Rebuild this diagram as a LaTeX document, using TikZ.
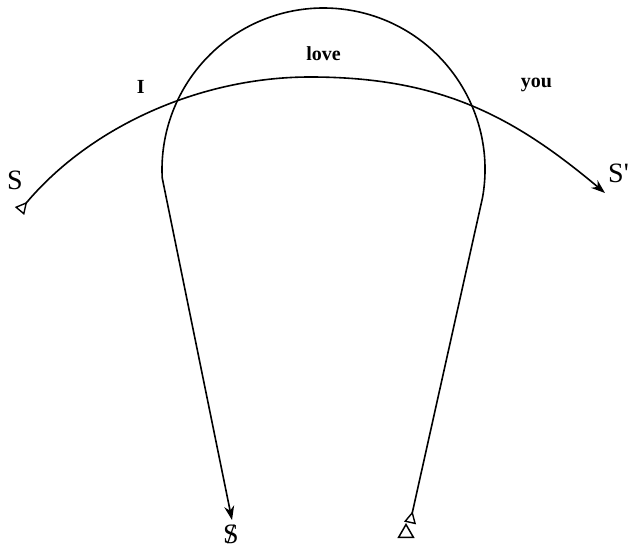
\documentclass[tikz,border=0pt]{standalone}
\usepackage{fontspec}
\setmainfont{Liberation Serif}
\usetikzlibrary{arrows.meta,shapes.geometric,calc}
\tikzset{
  otri/.tip={Triangle[open,reversed,length=12pt,width=12pt,line width=1.4pt]},
  farrow/.tip={Stealth[length=14pt,width=10pt]}
}
\begin{document}
\begin{tikzpicture}[x=1pt,y=1pt,
  line/.style={line width=1.6pt},
  lab/.style={font=\fontsize{20}{24}\selectfont\bfseries, anchor=base, inner sep=0pt},
  sym/.style={font=\fontsize{28}{32}\selectfont, anchor=base, inner sep=0pt}]
\useasboundingbox (0,0) rectangle (629,552);
\coordinate (C) at (323.5,382.5);
\coordinate (Sst) at (19.5,341);
\coordinate (top) at (310,475);
\coordinate (Send) at (605,359);
\coordinate (Rb) at (410,29);
\coordinate (Lb) at (232,32);
\coordinate (Ra) at ($(C)+(-10:161.5)$);
% long arc S -> S'
\draw[line, otri-farrow] (Sst) .. controls (90.2,425.3) and (200,475) .. (top)
      .. controls (440,475) and (513.1,436.1) .. (Send);
% loop
\draw[line, otri-farrow] (Rb) -- (Ra) arc[start angle=-10, end angle=183, radius=161.5] -- (Lb);
% labels
\node[lab] (I) at (140.7,458.7) {I};
\node[lab] (love) at (323.5,491.3) {love};
\node[lab] (you) at (536.5,464) {you};
\node[sym] (S) at (15,362) {S};
\node[sym, anchor=base west] (Sp) at (608,369) {S\textquotesingle};
\node[sym] (bS) at (231,9) {\ooalign{S\cr\hidewidth/\hidewidth\cr}};
\node[draw, regular polygon, regular polygon sides=3, minimum size=17pt, inner sep=0pt, line width=1.5pt] (tri) at (406,19) {};
\end{tikzpicture}
\end{document}
